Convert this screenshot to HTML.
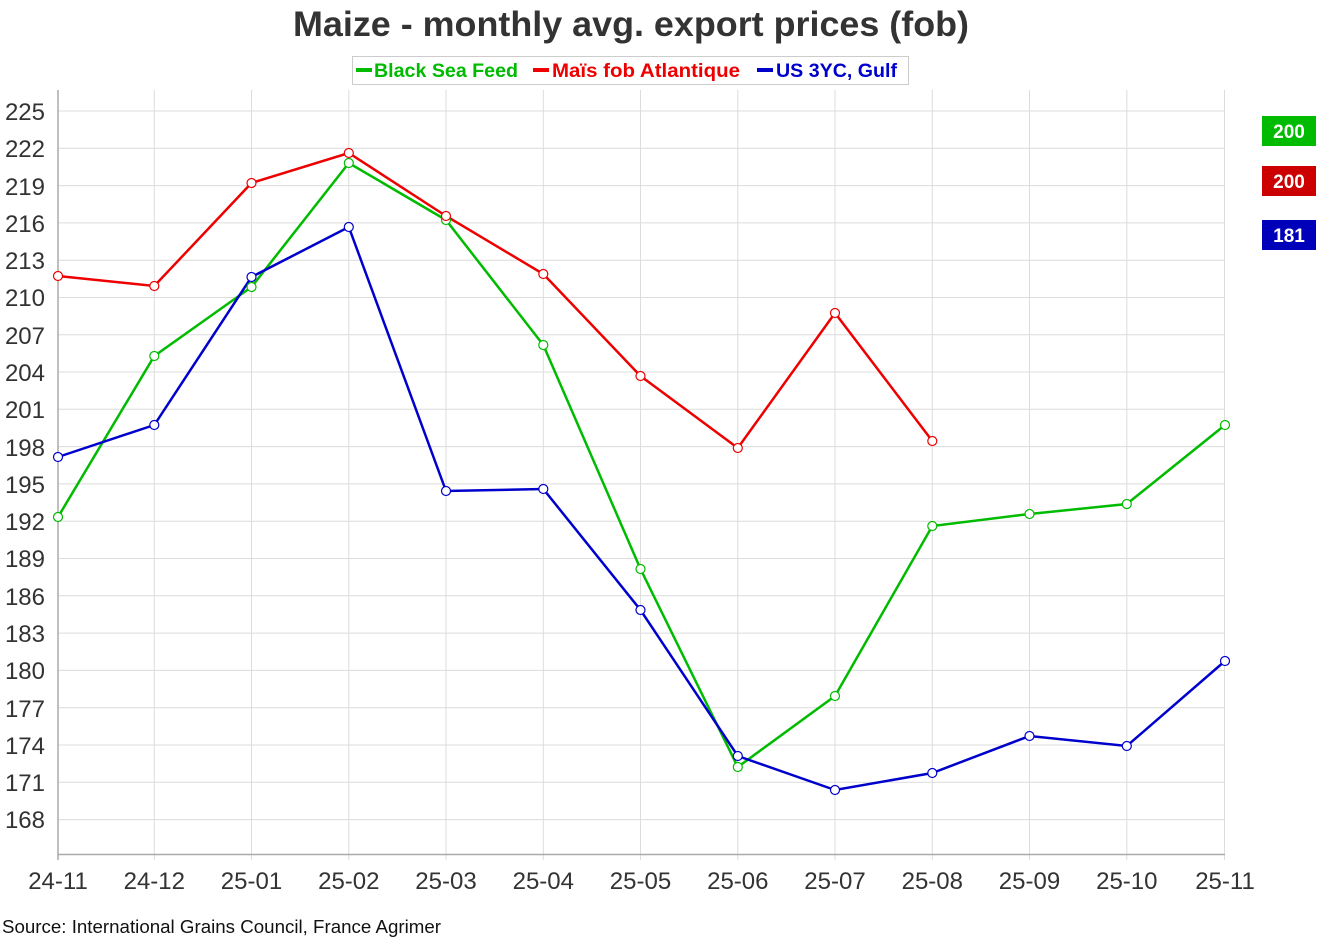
<!DOCTYPE html>
<html><head><meta charset="utf-8"><style>
html,body{margin:0;padding:0;background:#fff;}
svg{display:block;font-family:"Liberation Sans","DejaVu Sans",sans-serif;}
</style></head><body>
<svg width="1322" height="942" viewBox="0 0 1322 942" xmlns="http://www.w3.org/2000/svg">
<rect width="1322" height="942" fill="#fff"/>
<text x="631" y="36" text-anchor="middle" font-size="35" font-weight="bold" fill="#333" textLength="676" lengthAdjust="spacingAndGlyphs">Maize - monthly avg. export prices (fob)</text>
<rect x="352.5" y="56.5" width="556" height="28" fill="#fff" stroke="#ccc"/>
<rect x="356" y="68" width="16" height="4" fill="#00bb00"/>
<text x="374" y="77" font-size="19" font-weight="bold" fill="#00bb00" textLength="144" lengthAdjust="spacingAndGlyphs">Black Sea Feed</text>
<rect x="533" y="68" width="16" height="4" fill="#ee0000"/>
<text x="552" y="77" font-size="19" font-weight="bold" fill="#ee0000" textLength="188" lengthAdjust="spacingAndGlyphs">Maïs fob Atlantique</text>
<rect x="757" y="68" width="16" height="4" fill="#0000cc"/>
<text x="776" y="77" font-size="19" font-weight="bold" fill="#0000cc" textLength="121" lengthAdjust="spacingAndGlyphs">US 3YC, Gulf</text>
<g stroke="#dcdcdc" stroke-width="1">
<line x1="58" x2="1225" y1="111" y2="111"/><line x1="58" x2="1225" y1="148.3" y2="148.3"/><line x1="58" x2="1225" y1="185.6" y2="185.6"/><line x1="58" x2="1225" y1="222.9" y2="222.9"/><line x1="58" x2="1225" y1="260.2" y2="260.2"/><line x1="58" x2="1225" y1="297.5" y2="297.5"/><line x1="58" x2="1225" y1="334.7" y2="334.7"/><line x1="58" x2="1225" y1="372" y2="372"/><line x1="58" x2="1225" y1="409.3" y2="409.3"/><line x1="58" x2="1225" y1="446.6" y2="446.6"/><line x1="58" x2="1225" y1="483.9" y2="483.9"/><line x1="58" x2="1225" y1="521.2" y2="521.2"/><line x1="58" x2="1225" y1="558.5" y2="558.5"/><line x1="58" x2="1225" y1="595.8" y2="595.8"/><line x1="58" x2="1225" y1="633.1" y2="633.1"/><line x1="58" x2="1225" y1="670.4" y2="670.4"/><line x1="58" x2="1225" y1="707.7" y2="707.7"/><line x1="58" x2="1225" y1="745" y2="745"/><line x1="58" x2="1225" y1="782.3" y2="782.3"/><line x1="58" x2="1225" y1="819.6" y2="819.6"/>
<line x1="154.3" x2="154.3" y1="90" y2="860"/><line x1="251.5" x2="251.5" y1="90" y2="860"/><line x1="348.8" x2="348.8" y1="90" y2="860"/><line x1="446" x2="446" y1="90" y2="860"/><line x1="543.3" x2="543.3" y1="90" y2="860"/><line x1="640.5" x2="640.5" y1="90" y2="860"/><line x1="737.8" x2="737.8" y1="90" y2="860"/><line x1="835" x2="835" y1="90" y2="860"/><line x1="932.3" x2="932.3" y1="90" y2="860"/><line x1="1029.5" x2="1029.5" y1="90" y2="860"/><line x1="1126.8" x2="1126.8" y1="90" y2="860"/><line x1="1224.5" x2="1224.5" y1="90" y2="860"/>
</g>
<line x1="58" y1="90" x2="58" y2="860" stroke="#aaa" stroke-width="1.5"/>
<line x1="58" y1="854.5" x2="1225" y2="854.5" stroke="#aaa" stroke-width="1.5"/>
<g font-size="24" fill="#333" text-anchor="end">
<text x="45" y="120">225</text><text x="45" y="157">222</text><text x="45" y="195">219</text><text x="45" y="232">216</text><text x="45" y="269">213</text><text x="45" y="306">210</text><text x="45" y="344">207</text><text x="45" y="381">204</text><text x="45" y="418">201</text><text x="45" y="456">198</text><text x="45" y="493">195</text><text x="45" y="530">192</text><text x="45" y="567">189</text><text x="45" y="605">186</text><text x="45" y="642">183</text><text x="45" y="679">180</text><text x="45" y="717">177</text><text x="45" y="754">174</text><text x="45" y="791">171</text><text x="45" y="828">168</text>
</g>
<g font-size="24" fill="#333" text-anchor="middle">
<text x="58" y="889">24-11</text><text x="154.3" y="889">24-12</text><text x="251.5" y="889">25-01</text><text x="348.8" y="889">25-02</text><text x="446" y="889">25-03</text><text x="543.3" y="889">25-04</text><text x="640.5" y="889">25-05</text><text x="737.8" y="889">25-06</text><text x="835" y="889">25-07</text><text x="932.3" y="889">25-08</text><text x="1029.5" y="889">25-09</text><text x="1126.8" y="889">25-10</text><text x="1225" y="889">25-11</text>
</g>
<text x="2" y="933" font-size="18" fill="#111" textLength="439" lengthAdjust="spacingAndGlyphs">Source: International Grains Council, France Agrimer</text>
<polyline fill="none" stroke="#00bb00" stroke-width="2.5" points="58,517 154.3,356 251.5,287 348.8,163 446,220 543.3,345 640.5,569 737.8,767 835,696 932.3,526 1029.5,514 1126.8,504 1225,425"/>
<polyline fill="none" stroke="#ee0000" stroke-width="2.5" points="58,276 154.3,286 251.5,183 348.8,153 446,216 543.3,274 640.5,376 737.8,448 835,313 932.3,441"/>
<polyline fill="none" stroke="#0000cc" stroke-width="2.5" points="58,457 154.3,425 251.5,277 348.8,227 446,491 543.3,489 640.5,610 737.8,756 835,790 932.3,773 1029.5,736 1126.8,746 1225,661"/>
<g fill="#fff" stroke="#00bb00" stroke-width="1.2">
<circle cx="58" cy="517" r="4.5"/><circle cx="154.3" cy="356" r="4.5"/><circle cx="251.5" cy="287" r="4.5"/><circle cx="348.8" cy="163" r="4.5"/><circle cx="446" cy="220" r="4.5"/><circle cx="543.3" cy="345" r="4.5"/><circle cx="640.5" cy="569" r="4.5"/><circle cx="737.8" cy="767" r="4.5"/><circle cx="835" cy="696" r="4.5"/><circle cx="932.3" cy="526" r="4.5"/><circle cx="1029.5" cy="514" r="4.5"/><circle cx="1126.8" cy="504" r="4.5"/><circle cx="1225" cy="425" r="4.5"/>
</g>
<g fill="#fff" stroke="#ee0000" stroke-width="1.2">
<circle cx="58" cy="276" r="4.5"/><circle cx="154.3" cy="286" r="4.5"/><circle cx="251.5" cy="183" r="4.5"/><circle cx="348.8" cy="153" r="4.5"/><circle cx="446" cy="216" r="4.5"/><circle cx="543.3" cy="274" r="4.5"/><circle cx="640.5" cy="376" r="4.5"/><circle cx="737.8" cy="448" r="4.5"/><circle cx="835" cy="313" r="4.5"/><circle cx="932.3" cy="441" r="4.5"/>
</g>
<g fill="#fff" stroke="#0000cc" stroke-width="1.2">
<circle cx="58" cy="457" r="4.5"/><circle cx="154.3" cy="425" r="4.5"/><circle cx="251.5" cy="277" r="4.5"/><circle cx="348.8" cy="227" r="4.5"/><circle cx="446" cy="491" r="4.5"/><circle cx="543.3" cy="489" r="4.5"/><circle cx="640.5" cy="610" r="4.5"/><circle cx="737.8" cy="756" r="4.5"/><circle cx="835" cy="790" r="4.5"/><circle cx="932.3" cy="773" r="4.5"/><circle cx="1029.5" cy="736" r="4.5"/><circle cx="1126.8" cy="746" r="4.5"/><circle cx="1225" cy="661" r="4.5"/>
</g>
<rect x="1262" y="116" width="54" height="30" fill="#00bb00"/>
<text x="1289" y="138" font-size="19" font-weight="bold" fill="#fff" text-anchor="middle">200</text>
<rect x="1262" y="166" width="54" height="30" fill="#cc0000"/>
<text x="1289" y="188" font-size="19" font-weight="bold" fill="#fff" text-anchor="middle">200</text>
<rect x="1262" y="220" width="54" height="30" fill="#0000bb"/>
<text x="1289" y="242" font-size="19" font-weight="bold" fill="#fff" text-anchor="middle">181</text>
</svg>
</body></html>
